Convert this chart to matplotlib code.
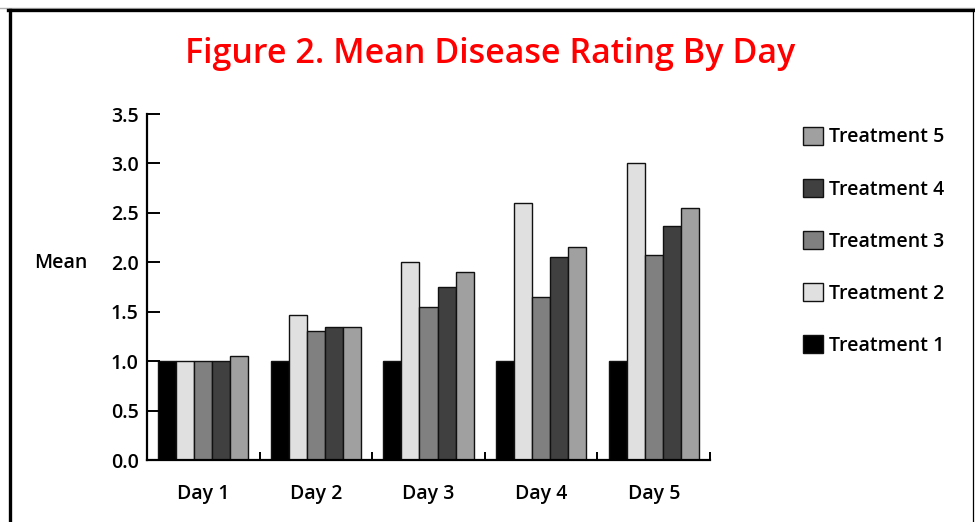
"""Mean disease rating by day, grouped bars for five treatments."""

import matplotlib
matplotlib.use("Agg")
import matplotlib.pyplot as plt
from matplotlib.lines import Line2D
import numpy as np

days = ["Day 1", "Day 2", "Day 3", "Day 4", "Day 5"]
treatments = ["Treatment 1", "Treatment 2", "Treatment 3", "Treatment 4", "Treatment 5"]
treatment_1 = [1.00, 1.00, 1.00, 1.00, 1.00]
treatment_2 = [1.00, 1.47, 2.00, 2.60, 3.00]
treatment_3 = [1.00, 1.30, 1.55, 1.65, 2.07]
treatment_4 = [1.00, 1.35, 1.75, 2.05, 2.37]
treatment_5 = [1.05, 1.35, 1.90, 2.15, 2.55]
colors = ["#000000", "#e0e0e0", "#808080", "#404040", "#a0a0a0"]
y_ticks = [0.0, 0.5, 1.0, 1.5, 2.0, 2.5, 3.0, 3.5]

series = [treatment_1, treatment_2, treatment_3, treatment_4, treatment_5]

plt.rcParams["font.family"] = ["Open Sans", "DejaVu Sans"]

W, H = 975, 522
fig = plt.figure(figsize=(W / 100, H / 100), dpi=100)
ax = fig.add_axes([147 / W, 1 - 460 / H, 563 / W, 346 / H])

x = np.arange(len(days))
bar_w = 0.8 / len(series)
bars = []
for i, vals in enumerate(series):
    b = ax.bar(x - 0.4 + bar_w * (i + 0.5), vals, bar_w, color=colors[i],
               edgecolor="#111111", linewidth=1.0, label=treatments[i])
    bars.append(b)

ax.set_xlim(-0.5, len(days) - 0.5)
ax.set_ylim(0, 3.5)
ax.set_yticks(y_ticks)
ax.set_yticklabels([f"{v:.1f}" for v in y_ticks])
ax.set_xticks(x)
ax.set_xticklabels(days)
ax.set_xticks(x + 0.5, minor=True)

for s in ["top", "right"]:
    ax.spines[s].set_visible(False)
for s in ["left", "bottom"]:
    ax.spines[s].set_linewidth(1.6)
    ax.spines[s].set_color("black")

ax.tick_params(axis="y", direction="in", length=9.5, width=1.4, pad=6,
               labelsize=14)
ax.tick_params(axis="x", which="major", length=0, pad=17, labelsize=14)
ax.tick_params(axis="x", which="minor", direction="in", length=6, width=1.4)
for lab in ax.get_xticklabels() + ax.get_yticklabels():
    lab.set_fontweight("semibold")

ax.set_ylabel("Mean", rotation=0, fontsize=14, fontweight="semibold",
              ha="left", va="center")
ax.yaxis.set_label_coords((34 - 147) / 563, (460 - 263) / 346)

fig.text(490 / W, 1 - 63 / H, "Figure 2. Mean Disease Rating By Day",
         color="#ff0000", fontsize=24.5, fontweight="semibold",
         ha="center", va="baseline")

leg = ax.legend(bars[::-1], treatments[::-1], loc="upper left",
                bbox_to_anchor=(795 / W, 1 - 119 / H),
                bbox_transform=fig.transFigure, frameon=False,
                handlelength=1.05, handleheight=1.05, handletextpad=0.3,
                labelspacing=1.62, borderaxespad=0,
                prop={"size": 14, "weight": "semibold"})

# picture frame
fig.add_artist(Line2D([0, 1], [1 - 7.5 / H] * 2, color="#b0b0b0", lw=1.0,
                      transform=fig.transFigure))
fig.add_artist(Line2D([8 / W, 973 / W], [1 - 10 / H] * 2, color="black",
                      lw=2.4, transform=fig.transFigure))
fig.add_artist(Line2D([9.5 / W] * 2, [0, 1 - 10 / H], color="black",
                      lw=2.4, transform=fig.transFigure))
fig.add_artist(Line2D([973 / W] * 2, [0, 1 - 10 / H], color="black",
                      lw=0.9, transform=fig.transFigure))

fig.savefig("out.png", dpi=100)
